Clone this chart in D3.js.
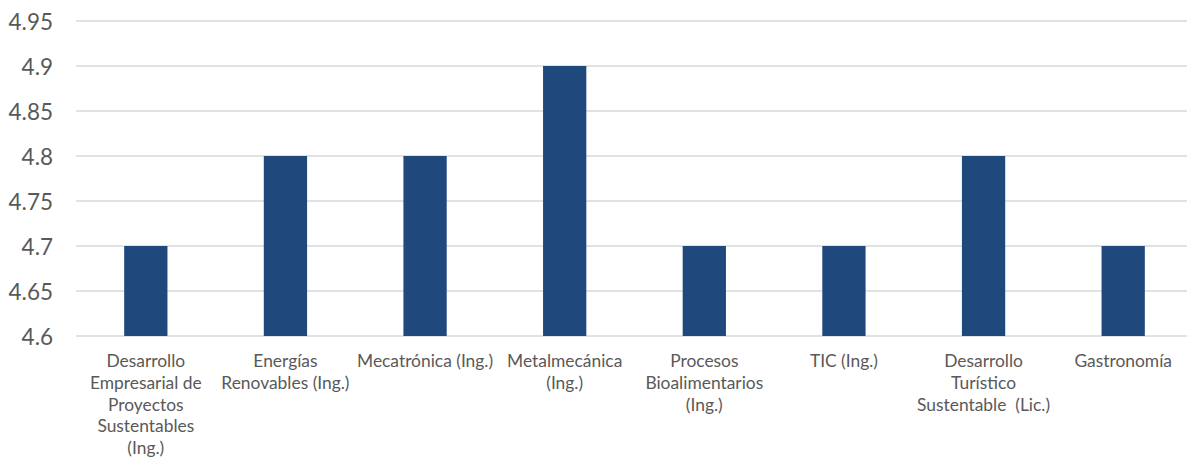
<!DOCTYPE html>
<html><head><meta charset="utf-8">
<script src="https://cdn.jsdelivr.net/npm/d3@7"></script>
<style>
html,body{margin:0;padding:0;background:#fff;}
svg{display:block;}
text{font-family:Lato,"Open Sans",sans-serif;fill:#595959;}
</style></head>
<body>
<svg id="chart" width="1187" height="460"></svg>
<script>
const categories = [
  "Desarrollo\nEmpresarial de\nProyectos\nSustentables\n(Ing.)",
  "Energías\nRenovables (Ing.)",
  "Mecatrónica (Ing.)",
  "Metalmecánica\n(Ing.)",
  "Procesos\nBioalimentarios\n(Ing.)",
  "TIC (Ing.)",
  "Desarrollo\nTurístico\nSustentable  (Lic.)",
  "Gastronomía"
];
const values = [4.7, 4.8, 4.8, 4.9, 4.7, 4.7, 4.8, 4.7];
const yTicks = [4.6, 4.65, 4.7, 4.75, 4.8, 4.85, 4.9, 4.95];
const yTickLabels = ["4.6", "4.65", "4.7", "4.75", "4.8", "4.85", "4.9", "4.95"];

const svg = d3.select("#chart");
const x = d3.scaleBand().domain(categories).range([76, 1193]).paddingInner(0.69).paddingOuter(0.345);
const y = d3.scaleLinear().domain([4.6, 4.95]).range([336, 21]);

// gridlines
svg.append("g").selectAll("line").data(yTicks).join("line")
  .attr("x1", 76).attr("x2", 1193)
  .attr("y1", d => y(d)).attr("y2", d => y(d))
  .attr("stroke", "#d9d9d9").attr("stroke-width", 1.5);

// y tick labels
svg.append("g").selectAll("text").data(yTicks).join("text")
  .attr("x", 53).attr("y", d => y(d))
  .attr("text-anchor", "end").attr("dominant-baseline", "central")
  .style("font-size", "22.5px")
  .text((d, i) => yTickLabels[i]);

// bars
svg.append("g").selectAll("rect").data(values).join("rect")
  .attr("x", (d, i) => x(categories[i]))
  .attr("width", x.bandwidth())
  .attr("y", d => y(d))
  .attr("height", d => y(4.6) - y(d))
  .attr("fill", "#1f497d");

// x labels
const xl = svg.append("g").selectAll("text").data(categories).join("text")
  .attr("text-anchor", "middle")
  .attr("xml:space", "preserve")
  .style("white-space", "pre")
  .style("font-size", "17.4px");
xl.each(function(d) {
  const t = d3.select(this);
  const cx = x(d) + x.bandwidth() / 2;
  d.split("\n").forEach((line, k) => {
    t.append("tspan").attr("x", cx).attr("y", 367 + k * 21.8).text(line);
  });
});
</script>
</body></html>
